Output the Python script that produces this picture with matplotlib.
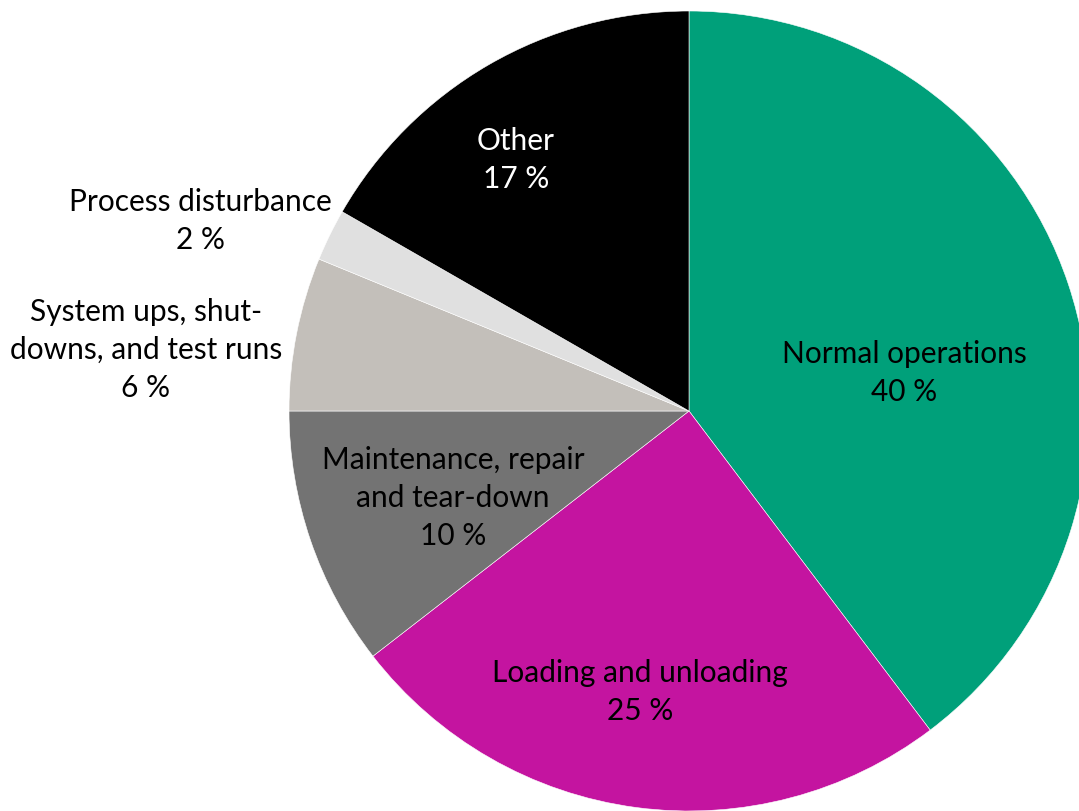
import matplotlib.pyplot as plt

categories = ["Normal operations", "Loading and unloading", "Maintenance, repair\nand tear-down",
              "System ups, shut-\ndowns, and test runs", "Process disturbance", "Other"]
# slice sizes; printed labels are the rounded ones
shares = [39.7, 24.8, 10.5, 6.2, 2.1, 16.7]
pct_labels = ["40 %", "25 %", "10 %", "6 %", "2 %", "17 %"]
colors = ["#00A07A", "#C414A0", "#737373", "#C3BFBA", "#E0E0E0", "#000000"]

# label centre positions in pie units (radius = 1), and text colour
label_pos = [(0.5375, 0.0975), (-0.1225, -0.70), (-0.59, -0.215),
             (-1.3575, 0.155), (-1.2225, 0.4775), (-0.4325, 0.63)]
label_color = ["black", "black", "black", "black", "black", "white"]

fig = plt.figure(figsize=(10.79, 8.12), dpi=100)
ax = fig.add_axes([0, 0, 1, 1])

ax.pie(shares, colors=colors, startangle=90, counterclock=False, radius=1.0,
       wedgeprops=dict(edgecolor="white", linewidth=0.4))

for cat, pct, (x, y), c in zip(categories, pct_labels, label_pos, label_color):
    ax.text(x, y, f"{cat}\n{pct}", ha="center", va="center", color=c,
            fontsize=21.5, family=["Lato", "DejaVu Sans"], linespacing=1.42)

ax.set_xlim(-689 / 400, (1079 - 689) / 400)
ax.set_ylim(-1.0, 412 / 400)
ax.set_aspect("auto")
ax.axis("off")

fig.savefig("out.png", dpi=100)
